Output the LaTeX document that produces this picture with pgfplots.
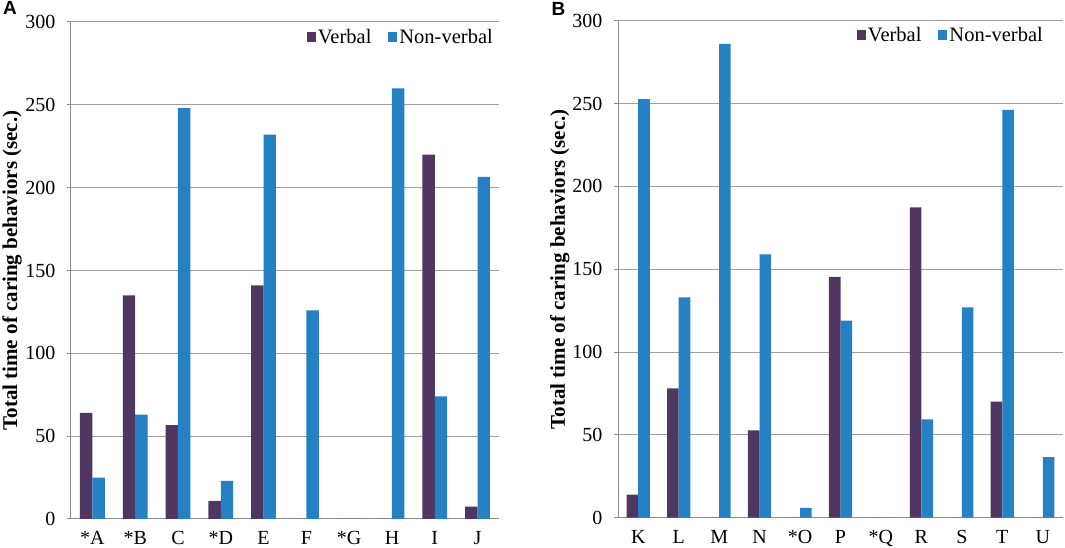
\documentclass[border=0pt]{standalone}
\usepackage{fontspec}
\setmainfont{Liberation Serif}
\newfontfamily\labelfont{Liberation Sans}
\usepackage{pgfplots}
\pgfplotsset{compat=1.18}
\definecolor{verbal}{HTML}{503762}
\definecolor{nonverbal}{HTML}{2580C4}
\definecolor{gridc}{HTML}{A0A0A0}
\definecolor{axisc}{HTML}{8C8C8C}
\pgfplotsset{
  panel/.style={
    scale only axis,
    ybar,
    ymin=0, ymax=300,
    ytick={0,50,...,300},
    ymajorgrids,
    grid style={gridc, line width=1pt},
    axis x line*=bottom, axis y line*=left,
    axis line style={axisc, line width=1pt, -},
    tick align=outside,
    major tick length=4pt,
    ytick style={axisc, line width=1pt},
    xtick style={draw=none},
    minor x tick style={axisc, line width=1pt},
    minor tick length=6pt,
    tick label style={font=\fontsize{20}{24}\selectfont},
    /pgf/number format/assume math mode=true,
    yticklabel style={xshift=-8pt},
    xticklabel style={yshift=-5pt},
    ylabel={Total time of caring behaviors (sec.)},
    ylabel style={font=\bfseries\fontsize{21}{25}\selectfont, anchor=center},
    legend columns=2,
    legend style={draw=none, fill=none, font=\fontsize{20.5}{24}\selectfont,
      at={(axis description cs:1,1)}, anchor=north east,
      /tikz/every even column/.append style={column sep=15pt}},
    legend image code/.code={\fill[##1,draw=none] (-2pt,-5pt) rectangle (7pt,5pt);},
  }
}
\begin{document}
\begin{tikzpicture}
\useasboundingbox (0,0) rectangle (1065pt,548pt);
\begin{axis}[panel,
  at={(71pt,29pt)}, anchor=south west,
  width=428pt, height=497pt,
  xmin=-0.5, xmax=9.5,
  xtick={0,...,9},
  xticklabels={*A,*B,C,*D,E,F,*G,H,I,J},
  minor xtick={-0.5,0.5,...,9.5},
  bar width=12.4pt,
  ylabel style={at={(axis description cs:-0.138,0.5)}},
  legend style={xshift=-1pt, yshift=-3pt},
]
\addplot[fill=verbal, draw=none, bar shift=-6.2pt] coordinates {
  (0,64) (1,135) (2,56.7) (3,11) (4,141) (5,0) (6,0) (7,0) (8,220) (9,7.5)};
\addplot[fill=nonverbal, draw=none, bar shift=6.2pt] coordinates {
  (0,25) (1,63) (2,248) (3,23) (4,232) (5,126) (6,0) (7,260) (8,74) (9,206.5)};
\legend{Verbal, Non-verbal}
\end{axis}
\begin{axis}[panel,
  at={(618pt,30.3pt)}, anchor=south west,
  width=445pt, height=497pt,
  xmin=-0.5, xmax=10.5,
  xtick={0,...,10},
  xticklabels={K,L,M,N,*O,P,*Q,R,S,T,U},
  minor xtick={-0.5,0.5,...,10.5},
  bar width=11.6pt,
  ylabel style={at={(axis description cs:-0.131,0.5)}},
  legend style={xshift=-15pt, yshift=-2pt},
]
\addplot[fill=verbal, draw=none, bar shift=-5.8pt] coordinates {
  (0,14) (1,78) (2,0) (3,52.7) (4,0) (5,145.3) (6,0) (7,187.3) (8,0) (9,70) (10,0)};
\addplot[fill=nonverbal, draw=none, bar shift=5.8pt] coordinates {
  (0,252.7) (1,133) (2,286) (3,159) (4,6) (5,119) (6,0) (7,59.4) (8,127) (9,246.2) (10,36.6)};
\legend{Verbal, Non-verbal}
\end{axis}
\node[font=\labelfont\bfseries\fontsize{19}{22}\selectfont, inner sep=0pt] at (10pt,540pt) {A};
\node[font=\labelfont\bfseries\fontsize{19}{22}\selectfont, inner sep=0pt] at (558.5pt,539.5pt) {B};
\end{tikzpicture}
\end{document}
